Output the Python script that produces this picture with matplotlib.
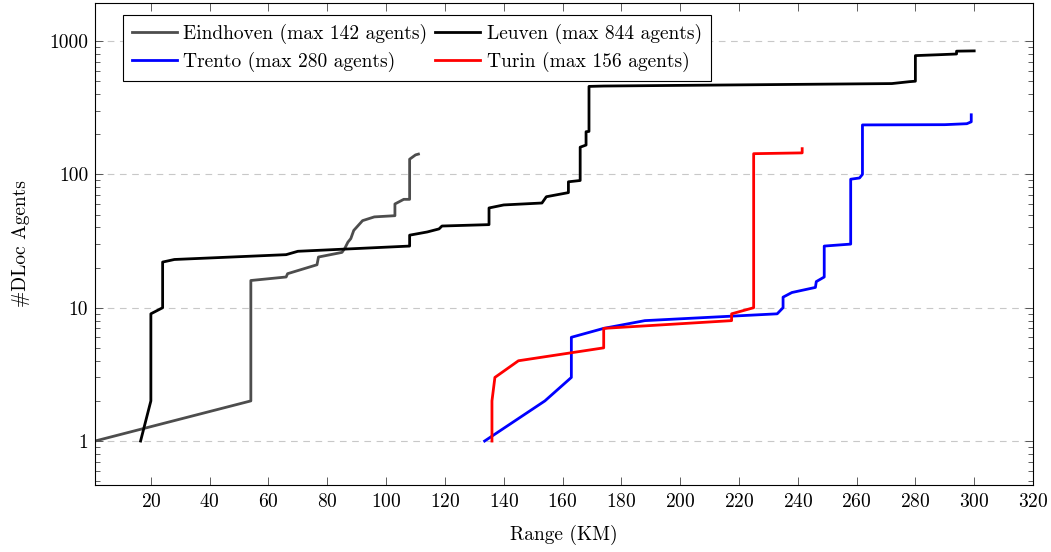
import matplotlib
matplotlib.use("Agg")
import matplotlib.pyplot as plt
from matplotlib.ticker import FixedLocator, LogLocator, NullFormatter

plt.rcParams['font.family'] = ['cmr10', 'DejaVu Serif']
plt.rcParams['axes.formatter.use_mathtext'] = True

# Eindhoven
eind_x = [1, 54, 54, 66, 66.5, 76.5, 77, 85, 86, 87, 88, 89, 92, 96, 103, 103, 106, 108, 108, 110, 111]
eind_y = [1, 2, 16, 17, 18, 21, 24, 26, 28, 31, 33, 38, 45, 48, 49, 60, 65, 65, 130, 140, 142]
# Leuven
leu_x = [16.5, 20, 20, 24, 24, 28, 66, 70, 108, 108, 114, 118, 119, 135, 135, 140, 153, 154.5, 162, 162,
         166, 166, 168, 168, 169, 169, 174, 272, 278, 280, 280, 288, 294, 294, 300]
leu_y = [1, 2, 9, 10, 22, 23, 25, 26.5, 29, 35, 37, 39, 41, 42, 56, 59, 61, 68, 73, 88,
         90, 160, 166, 209, 210, 457, 460, 480, 496, 500, 778, 790, 800, 840, 844]
# Trento
tre_x = [133.5, 154, 163, 163, 174, 188, 233, 235, 235, 238, 246, 246.3, 249, 249, 258, 258, 261, 262, 262,
         290, 297.5, 299, 299]
tre_y = [1, 2, 3, 6, 7, 8, 9, 10, 12, 13, 14.2, 15.7, 17, 29, 30, 92, 94, 100, 235,
         236, 240, 248, 280]
# Turin
tur_x = [136, 136, 137, 145, 174, 174, 217.5, 217.5, 225, 225, 241.5, 241.5]
tur_y = [1, 2, 3, 4, 5, 7, 8, 9, 10, 143, 145, 156]

fs = 14

fig = plt.figure(figsize=(10.51, 5.52), dpi=100)
ax = fig.add_axes([95/1051, 1 - 485/552, (1033-95)/1051, (485-3)/552])

lw = 2.0
l_e, = ax.plot(eind_x, eind_y, color='#4d4d4d', lw=lw, label='Eindhoven (max 142 agents)')
l_l, = ax.plot(leu_x, leu_y, color='black', lw=lw, label='Leuven (max 844 agents)')
l_tr, = ax.plot(tre_x, tre_y, color='blue', lw=lw, label='Trento (max 280 agents)')
l_tu, = ax.plot(tur_x, tur_y, color='red', lw=lw, label='Turin (max 156 agents)')

ax.set_yscale('log')
ax.set_xlim(1, 319.5)
ax.set_ylim(0.468, 1930)

ax.set_xticks(range(20, 321, 20))
ax.yaxis.set_major_locator(FixedLocator([1, 10, 100, 1000]))
ax.set_yticklabels(['1', '10', '100', '1000'])
ax.yaxis.set_minor_locator(LogLocator(base=10, subs=range(2, 10)))
ax.yaxis.set_minor_formatter(NullFormatter())

ax.tick_params(axis='both', which='major', direction='in', top=True, right=True,
               labelsize=fs, length=6, width=0.6, color='#444444')
ax.tick_params(axis='y', which='minor', direction='in', right=True, length=3.5, width=0.6, color='#444444')
ax.tick_params(axis='x', which='major', pad=6)
ax.tick_params(axis='y', which='major', pad=5)

ax.grid(axis='y', which='major', color='#c8c8c8', linestyle=(0, (6, 5)), lw=0.8)
for s in ax.spines.values():
    s.set_linewidth(0.8)

ax.set_xlabel('Range (KM)', fontsize=fs, labelpad=10)
ax.set_ylabel('#DLoc Agents', fontsize=fs, labelpad=14)

leg = ax.legend([l_e, l_tr, l_l, l_tu], [l.get_label() for l in (l_e, l_tr, l_l, l_tu)],
                ncol=2, loc='upper left', bbox_to_anchor=(0.0299, 0.975), fontsize=fs,
                frameon=True, fancybox=False, edgecolor='black', framealpha=1,
                handlelength=2.3, columnspacing=0.4, handletextpad=0.35, borderpad=0.45,
                labelspacing=0.4, borderaxespad=0)
leg.get_frame().set_linewidth(0.8)

fig.savefig('out.png', dpi=100)
